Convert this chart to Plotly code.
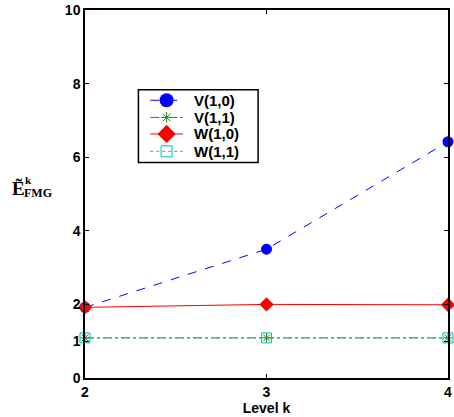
import plotly.graph_objects as go

levels = [2, 3, 4]
v10 = [1.92, 3.5, 6.42]
v11 = [1.09, 1.09, 1.09]
w10 = [1.92, 2.0, 1.99]
w11 = [1.09, 1.09, 1.09]
y_ticks = [0, 1, 2, 4, 6, 8, 10]
x_ticks = [2, 3, 4]
names = ["V(1,0)", "V(1,1)", "W(1,0)", "W(1,1)"]

BLUE = "rgb(0,0,255)"
GREEN = "rgb(30,140,30)"
RED = "rgb(255,0,0)"
CYAN = "rgb(0,191,191)"

styles = [
    dict(line=dict(color=BLUE, dash="dash", width=1),
         marker=dict(symbol="circle", size=11, color=BLUE), lm=14),
    dict(line=dict(color=GREEN, dash="dashdot", width=1),
         marker=dict(symbol="asterisk-open", size=8, color=GREEN,
                     line=dict(color=GREEN, width=1)), lm=9),
    dict(line=dict(color=RED, dash="solid", width=1),
         marker=dict(symbol="diamond", size=11, color=RED), lm=14),
    dict(line=dict(color=CYAN, dash="dot", width=1),
         marker=dict(symbol="square-open", size=10, color=CYAN,
                     line=dict(color=CYAN, width=1)), lm=11),
]
series = [v10, v11, w10, w11]

fig = go.Figure()
for name, ys, st in zip(names, series, styles):
    fig.add_trace(go.Scatter(x=levels, y=ys, name=name, mode="lines+markers",
                             line=st["line"], marker=st["marker"],
                             cliponaxis=False, showlegend=False))

# ---- manual legend in pixel coordinates (overlay axes) ----
L, R, T, B = 85, 452, 9, 378
box = dict(x0=139, x1=260, y0=89, y1=162)
row_y = [99.5, 116.7, 133.3, 150.7]
line_x0, line_x1, mark_x, text_x = 151, 184, 167.5, 193

fig.add_shape(type="rect", xref="x2", yref="y2", x0=box["x0"], x1=box["x1"],
              y0=box["y0"], y1=box["y1"], line=dict(color="black", width=1.5),
              fillcolor="white", layer="below")
for name, yy, st in zip(names, row_y, styles):
    fig.add_shape(type="line", xref="x2", yref="y2", x0=line_x0, x1=line_x1,
                  y0=yy, y1=yy, line=st["line"], layer="below")
    mk = dict(st["marker"])
    mk["size"] = st["lm"]
    fig.add_trace(go.Scatter(x=[mark_x], y=[yy], xaxis="x2", yaxis="y2", mode="markers",
                             marker=mk, showlegend=False, hoverinfo="skip",
                             cliponaxis=False))
    fig.add_annotation(text="<b>" + name + "</b>", xref="x2", yref="y2", x=text_x, y=yy,
                       xanchor="left", yanchor="middle", showarrow=False,
                       font=dict(family="Liberation Sans, Arial", size=15, color="black"))

axis_font = dict(family="Liberation Sans, Arial", size=14, color="black", weight="bold")

fig.update_layout(
    width=454, height=417,
    margin=dict(l=L, r=454 - R, t=T, b=417 - B),
    paper_bgcolor="white", plot_bgcolor="white",
    showlegend=False,
    xaxis=dict(range=[2, 4], tickvals=x_ticks, ticktext=[str(t) for t in x_ticks],
               showgrid=False, zeroline=False, showline=True, linecolor="black",
               linewidth=1.5, mirror="allticks", ticks="inside", ticklen=4,
               tickcolor="black", tickfont=axis_font, ticklabeloverflow="allow",
               title=dict(text="<b>Level k</b>", font=axis_font, standoff=2)),
    yaxis=dict(range=[0, 10], tickvals=y_ticks, ticktext=[str(t) for t in y_ticks],
               showgrid=False, zeroline=False, showline=True, linecolor="black",
               linewidth=1.5, mirror="allticks", ticks="inside", ticklen=4,
               tickcolor="black", tickfont=axis_font),
    xaxis2=dict(range=[L, R], overlaying="x", visible=False, domain=[0, 1]),
    yaxis2=dict(range=[B, T], overlaying="y", visible=False, domain=[0, 1]),
)

def px(xp):
    return (xp - L) / (R - L)

def py(yp):
    return (B - yp) / (B - T)

serif = dict(family="Liberation Serif, DejaVu Serif", color="black")
fig.add_annotation(text="<b>Ẽ</b>", xref="paper", yref="paper", x=px(9), y=py(188),
                   xanchor="left", yanchor="middle", showarrow=False,
                   font=dict(serif, size=19))
fig.add_annotation(text="<b>k</b>", xref="paper", yref="paper", x=px(23), y=py(179.5),
                   xanchor="left", yanchor="middle", showarrow=False,
                   font=dict(serif, size=11), borderpad=0)
fig.add_annotation(text="<b>FMG</b>", xref="paper", yref="paper", x=px(22), y=py(192.5),
                   xanchor="left", yanchor="middle", showarrow=False,
                   font=dict(serif, size=12), borderpad=0)

fig.write_html("out.html")
